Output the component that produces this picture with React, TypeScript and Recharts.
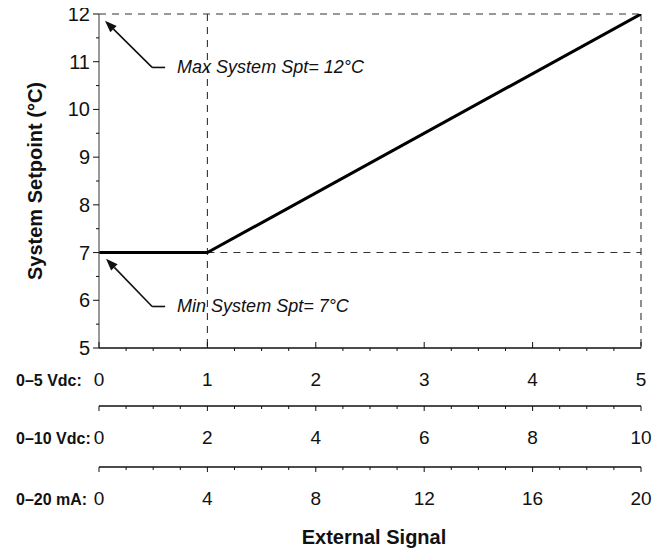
import { LineChart, Line, XAxis, YAxis, ReferenceLine, Label } from "recharts";

// transfer curve: setpoint vs. external signal (same three points on each scale)
const signal05 = [0, 1, 5];
const signal010 = [0, 2, 10];
const signal020 = [0, 4, 20];
const setpointC = [7, 7, 12];

// tick values (majors get labels)
const yMajor = [5, 6, 7, 8, 9, 10, 11, 12];
const yAll = [5, 5.5, 6, 6.5, 7, 7.5, 8, 8.5, 9, 9.5, 10, 10.5, 11, 11.5, 12];
const v5Major = [0, 1, 2, 3, 4, 5];
const v5All = [0, 0.25, 0.5, 0.75, 1, 1.25, 1.5, 1.75, 2, 2.25, 2.5, 2.75, 3, 3.25, 3.5, 3.75, 4, 4.25, 4.5, 4.75, 5];
const v10Major = [0, 2, 4, 6, 8, 10];
const v10All = [0, 0.5, 1, 1.5, 2, 2.5, 3, 3.5, 4, 4.5, 5, 5.5, 6, 6.5, 7, 7.5, 8, 8.5, 9, 9.5, 10];
const ma20Major = [0, 4, 8, 12, 16, 20];
const ma20All = [0, 1, 2, 3, 4, 5, 6, 7, 8, 9, 10, 11, 12, 13, 14, 15, 16, 17, 18, 19, 20];

// annotation arrows, in data units of the 0–5 Vdc axis
const maxArrow = [{ x: 0.055, y: 11.86 }, { x: 0.49, y: 10.88 }];
const maxLeader = [{ x: 0.49, y: 10.88 }, { x: 0.61, y: 10.88 }];
const minArrow = [{ x: 0.065, y: 6.87 }, { x: 0.49, y: 5.87 }];
const minLeader = [{ x: 0.49, y: 5.87 }, { x: 0.61, y: 5.87 }];
const maxText = "Max System Spt= 12°C";
const minText = "Min System Spt= 7°C";

const data = signal05.map((s, i) => ({
  v5: s,
  v10: signal010[i],
  ma20: signal020[i],
  setpoint: setpointC[i],
}));

const FONT = '"Liberation Sans", Arial, Helvetica, sans-serif';
const INK = "#111";
const DASH = "7 6";

const makeXTick = (rowLabel: string, majors: number[], upMajor: boolean) =>
  function XTick(props: any) {
    const { x, y, payload } = props;
    const v = payload.value;
    const major = majors.includes(v);
    let tick;
    if (upMajor) {
      tick = major ? (
        <line x1={x} x2={x} y1={y} y2={y - 6} stroke={INK} strokeWidth={1} />
      ) : (
        <line x1={x} x2={x} y1={y} y2={y + 3} stroke={INK} strokeWidth={1} />
      );
    } else {
      tick = <line x1={x} x2={x} y1={y} y2={y + (major ? 5 : 3)} stroke={INK} strokeWidth={1} />;
    }
    return (
      <g>
        {tick}
        {major && (
          <text x={x} y={y + 31} textAnchor="middle" dominantBaseline="central" fontSize={19} fontFamily={FONT} fill={INK}>
            {v}
          </text>
        )}
        {v === 0 && (
          <text x={x - 83} y={y + 32} textAnchor="start" dominantBaseline="central" fontSize={16} fontWeight="bold" fontFamily={FONT} fill={INK}>
            {rowLabel}
          </text>
        )}
      </g>
    );
  };

const YTick = (props: any) => {
  const { x, y, payload } = props;
  const v = payload.value;
  const major = yMajor.includes(v);
  return (
    <g>
      <line x1={x} x2={x - (major ? 6 : 3)} y1={y} y2={y} stroke={INK} strokeWidth={1} />
      {major && (
        <text x={x - 9} y={y} textAnchor="end" dominantBaseline="central" fontSize={20} fontFamily={FONT} fill={INK}>
          {v}
        </text>
      )}
    </g>
  );
};

const ArrowShape = (p: any) => {
  const { x1, y1, x2, y2 } = p;
  const ang = Math.atan2(y1 - y2, x1 - x2);
  const len = 12;
  const half = 4.5;
  const bx = x1 - len * Math.cos(ang);
  const by = y1 - len * Math.sin(ang);
  const nx = -Math.sin(ang) * half;
  const ny = Math.cos(ang) * half;
  return (
    <g>
      <line x1={x2} y1={y2} x2={bx} y2={by} stroke={INK} strokeWidth={1.6} />
      <polygon points={`${x1},${y1} ${bx + nx},${by + ny} ${bx - nx},${by - ny}`} fill={INK} />
    </g>
  );
};

const leaderShape = (text: string) =>
  function Leader(p: any) {
    const { x1, y1, x2, y2 } = p;
    return (
      <g>
        <line x1={x1} y1={y1} x2={x2} y2={y2} stroke={INK} strokeWidth={1.6} />
        <text x={Math.max(x1, x2) + 12} y={y2} dominantBaseline="central" fontSize={18} fontStyle="italic" fontFamily={FONT} fill={INK}>
          {text}
        </text>
      </g>
    );
  };

export default function App() {
  return (
    <div style={{ width: 659, height: 546, marginTop: -6 }}>
      <LineChart width={659} height={546} data={data} margin={{ top: 12, right: 26, bottom: 0, left: 0 }}>
        {/* bottom axes stack outward: a5 next to the plot, then b10, then c20 */}
        <XAxis
          xAxisId="c20"
          dataKey="ma20"
          type="number"
          domain={[0, 20]}
          ticks={ma20All}
          interval={0}
          allowDataOverflow
          height={81}
          tickSize={0}
          tickMargin={0}
          tickLine={false}
          axisLine={{ stroke: INK, strokeWidth: 1.3 }}
          tick={makeXTick("0–20 mA:", ma20Major, false)}
        >
          <Label
            content={(p: any) => {
              const vb = p.viewBox;
              return (
                <text x={vb.x + vb.width / 2 + 4} y={vb.y + 70} textAnchor="middle" dominantBaseline="central" fontSize={20} fontWeight="bold" fontFamily={FONT} fill={INK}>
                  External Signal
                </text>
              );
            }}
          />
        </XAxis>
        <XAxis
          xAxisId="b10"
          dataKey="v10"
          type="number"
          domain={[0, 10]}
          ticks={v10All}
          interval={0}
          allowDataOverflow
          height={61}
          tickSize={0}
          tickMargin={0}
          tickLine={false}
          axisLine={{ stroke: INK, strokeWidth: 1.3 }}
          tick={makeXTick("0–10 Vdc:", v10Major, false)}
        />
        <XAxis
          xAxisId="a5"
          dataKey="v5"
          type="number"
          domain={[0, 5]}
          ticks={v5All}
          interval={0}
          allowDataOverflow
          height={58}
          tickSize={0}
          tickMargin={0}
          tickLine={false}
          axisLine={{ stroke: INK, strokeWidth: 1.5 }}
          tick={makeXTick("0–5 Vdc:", v5Major, true)}
        />
        <YAxis
          type="number"
          domain={[5, 12]}
          ticks={yAll}
          interval={0}
          allowDataOverflow
          width={91}
          tickSize={0}
          tickMargin={0}
          tickLine={false}
          axisLine={{ stroke: "#555", strokeWidth: 1.2 }}
          tick={YTick}
        >
          <Label
            content={(p: any) => {
              const vb = p.viewBox;
              const cx = 27;
              const cy = vb.y + vb.height / 2;
              return (
                <text x={cx} y={cy} transform={`rotate(-90, ${cx}, ${cy})`} textAnchor="middle" dominantBaseline="central" fontSize={20} fontWeight="bold" fontFamily={FONT} fill={INK}>
                  System Setpoint (°C)
                </text>
              );
            }}
          />
        </YAxis>

        <ReferenceLine xAxisId="a5" segment={[{ x: 0, y: 12 }, { x: 5, y: 12 }]} stroke="#333" strokeWidth={1.1} strokeDasharray={DASH} ifOverflow="visible" />
        <ReferenceLine xAxisId="a5" segment={[{ x: 1, y: 7 }, { x: 5, y: 7 }]} stroke="#333" strokeWidth={1.1} strokeDasharray={DASH} ifOverflow="visible" />
        <ReferenceLine xAxisId="a5" segment={[{ x: 1, y: 12 }, { x: 1, y: 5 }]} stroke="#333" strokeWidth={1.1} strokeDasharray={DASH} ifOverflow="visible" />
        <ReferenceLine xAxisId="a5" segment={[{ x: 5, y: 12 }, { x: 5, y: 5 }]} stroke="#333" strokeWidth={1.1} strokeDasharray={DASH} ifOverflow="visible" />

        <ReferenceLine xAxisId="a5" segment={maxArrow} shape={ArrowShape} ifOverflow="visible" />
        <ReferenceLine xAxisId="a5" segment={maxLeader} shape={leaderShape(maxText)} ifOverflow="visible" />
        <ReferenceLine xAxisId="a5" segment={minArrow} shape={ArrowShape} ifOverflow="visible" />
        <ReferenceLine xAxisId="a5" segment={minLeader} shape={leaderShape(minText)} ifOverflow="visible" />

        <Line
          xAxisId="a5"
          type="linear"
          dataKey="setpoint"
          stroke="#000"
          strokeWidth={3}
          dot={false}
          activeDot={false}
          isAnimationActive={false}
        />
      </LineChart>
    </div>
  );
}
